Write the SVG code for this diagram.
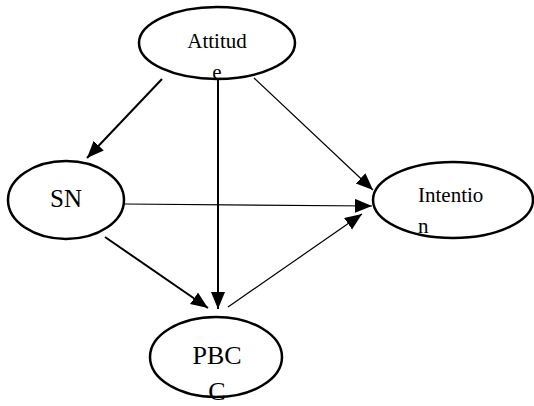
<svg xmlns="http://www.w3.org/2000/svg" width="534" height="406" viewBox="0 0 534 406">
<style>
.node ellipse{fill:none;stroke:#000;stroke-width:2.5}
.node text{font-family:"Liberation Serif","Times New Roman",serif;fill:#000}
.c{text-anchor:middle}
.edges line{stroke:#000}
.thick{stroke-width:2}
.thin{stroke-width:1.2}
</style>
<defs>
<marker id="ah" markerUnits="userSpaceOnUse" markerWidth="18" markerHeight="15" refX="17" refY="7" orient="auto">
<path d="M0,0 L17,7 L0,14 z" fill="#000"/>
</marker>
</defs>
<rect width="534" height="406" fill="#fff"/>
<g class="edges">
<line class="thick" x1="162" y1="79" x2="87" y2="158" marker-end="url(#ah)"/>
<line class="thick" x1="218" y1="78" x2="218" y2="309" marker-end="url(#ah)"/>
<line class="thin" x1="254" y1="78" x2="373" y2="190" marker-end="url(#ah)"/>
<line class="thin" x1="124" y1="204" x2="372" y2="206" marker-end="url(#ah)"/>
<line class="thick" x1="105" y1="237" x2="208" y2="308" marker-end="url(#ah)"/>
<line class="thin" x1="228" y1="307" x2="362" y2="214" marker-end="url(#ah)"/>
</g>
<g id="attitude" class="node">
<ellipse cx="217" cy="43" rx="78" ry="36"/>
<text class="c" x="217" y="48" font-size="21">Attitud</text>
<text class="c" x="217" y="79" font-size="21">e</text>
</g>
<g id="sn" class="node">
<ellipse cx="66" cy="200" rx="58" ry="39"/>
<text class="c" x="66" y="207" font-size="25">SN</text>
</g>
<g id="intention" class="node">
<ellipse cx="453" cy="200" rx="80" ry="38"/>
<text x="418" y="202" font-size="21">Intentio</text>
<text x="418" y="233" font-size="21">n</text>
</g>
<g id="pbc" class="node">
<ellipse cx="216" cy="357" rx="66" ry="40"/>
<text class="c" x="217" y="364" font-size="26">PBC</text>
<text class="c" x="217" y="400" font-size="26">C</text>
</g>
</svg>
